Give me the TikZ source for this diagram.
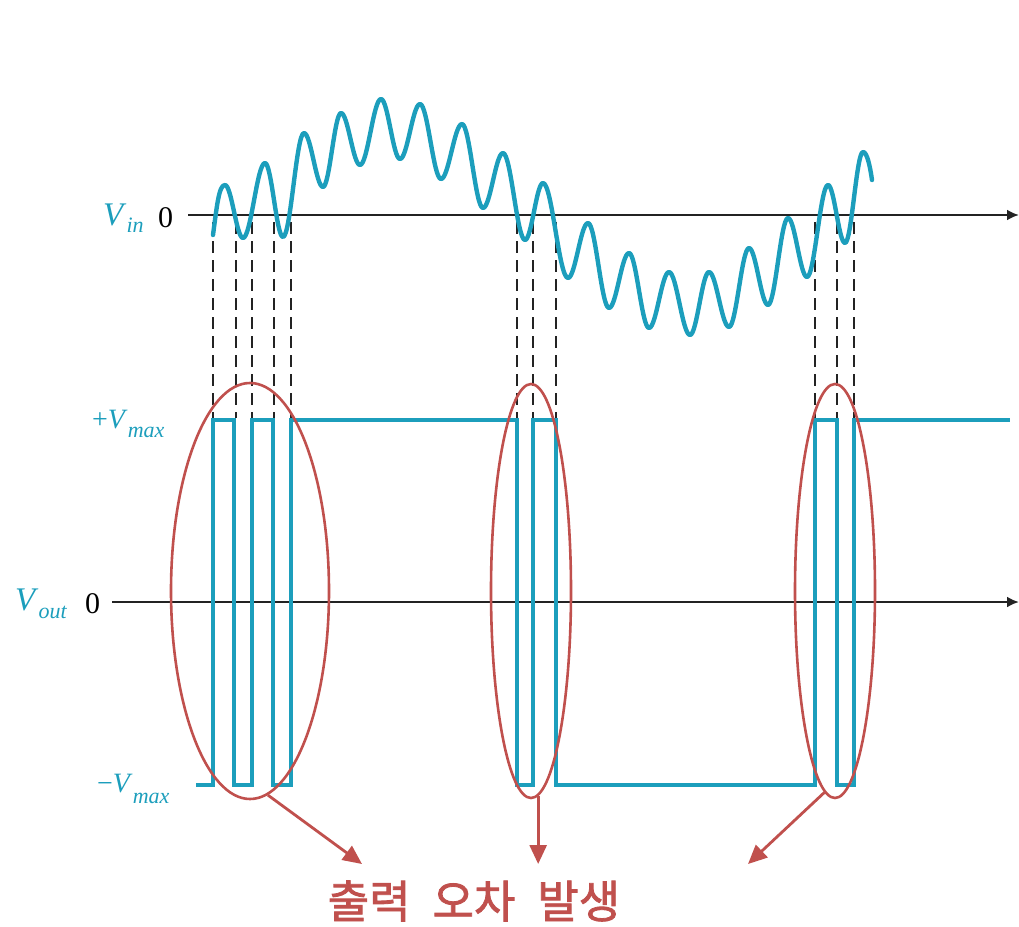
\documentclass[tikz,border=0pt]{standalone}
\usepackage{fontspec}
\setmainfont{Liberation Serif}
\newfontfamily\krfont[AutoFakeBold=1.8]{Noto Sans CJK KR}
\usetikzlibrary{arrows.meta,shapes.geometric}
\definecolor{wavec}{RGB}{28,158,188}
\definecolor{errred}{RGB}{192,80,77}
\definecolor{axisc}{RGB}{35,35,35}
\begin{document}
\begin{tikzpicture}[x=1pt,y=-1pt,
  wave/.style={draw=wavec, line width=4.4pt, line cap=round, line join=round},
  sq/.style={draw=wavec, line width=4.2pt, line join=miter},
  axisline/.style={draw=axisc, line width=2.6pt, -{Latex[length=12pt,width=11pt]}},
  guide/.style={draw=axisc, line width=2.8pt, dash pattern=on 12pt off 7pt},
  ring/.style={ellipse, draw=errred, line width=2.6pt, inner sep=0pt},
  callout/.style={draw=errred, line width=2.8pt, -{Triangle[length=19pt,width=17pt]}},
  lab/.style={inner sep=0pt, anchor=base west},
]
\useasboundingbox (0,0) rectangle (1019,926);

% dashed guides
\foreach \gx in {213,236,252,274,291,517,533,556,815,837,854}
  \draw[guide] (\gx,222) -- (\gx,418);

% axes
\coordinate (vinS) at (188,215);
\coordinate (vinE) at (1019,215);
\coordinate (voutS) at (112,602);
\coordinate (voutE) at (1019,602);
\draw[axisline] (vinS) -- (vinE);
\draw[axisline] (voutS) -- (voutE);

% input wave
\draw[wave] (213,235) .. controls (217,205) and (219,185) .. (225,185)
  \foreach \x/\y [remember=\x as \px (initially 225), remember=\y as \py (initially 185)] in
  {243/238,265/163,283/237,304/133,323/187,341/113,360/165,381/99,400/159,420/104,441/179,462/124,483/208,503/153,525/240,543/183,568/278,588/223,609/308,629/253,649/328,669/272,690/335,709/272,729/327,749/248,768/305,788/218,807/277,828/185,845/243,863/152}
  { .. controls ({\px+0.3634*(\x-\px)},\py) and ({\x-0.3634*(\x-\px)},\y) .. (\x,\y) }
  .. controls (867,152) and (870,166) .. (872,180);

% output square wave
\draw[sq] (196,785) -- (213,785) -- (213,420) -- (234,420) -- (234,785) -- (252,785)
  -- (252,420) -- (273,420) -- (273,785) -- (291,785) -- (291,420) -- (517,420)
  -- (517,785) -- (533,785) -- (533,420) -- (556,420) -- (556,785) -- (815,785)
  -- (815,420) -- (837,420) -- (837,785) -- (854,785) -- (854,420) -- (1010,420);

% labels
\node[lab, text=wavec] (vin) at (103,225)
  {\fontsize{33}{33}\selectfont\textit{V}\raisebox{-7pt}{\fontsize{22}{22}\selectfont\textit{in}}};
\node[lab] (vin0) at (158,227) {\fontsize{30}{30}\selectfont 0};
\node[lab, text=wavec] (vout) at (15,610)
  {\fontsize{33}{33}\selectfont\textit{V}\raisebox{-8pt}{\fontsize{22}{22}\selectfont\textit{out}}};
\node[lab] (vout0) at (85,613) {\fontsize{30}{30}\selectfont 0};
\node[lab, text=wavec] (vmaxp) at (92,428)
  {\fontsize{28}{28}\selectfont +\textit{V}\raisebox{-9pt}{\fontsize{22}{22}\selectfont\textit{max}}};
\node[lab, text=wavec] (vmaxn) at (97,792)
  {\fontsize{28}{28}\selectfont −\textit{V}\raisebox{-11pt}{\fontsize{22}{22}\selectfont\textit{max}}};

% error ellipses
\node[ring, minimum width=158pt, minimum height=416pt] (e1) at (250,591) {};
\node[ring, minimum width=80pt, minimum height=414pt] (e2) at (531,591) {};
\node[ring, minimum width=80pt, minimum height=414pt] (e3) at (835,591) {};

% message and callouts
\node[text=errred, inner sep=0pt] (msg) at (474,901)
  {\krfont\bfseries\fontsize{45}{45}\selectfont 출력\hspace{22pt}오차\hspace{22pt}발생};
\coordinate (t1) at (362,864);
\coordinate (t2) at (539,864);
\coordinate (t3) at (748,864);
\draw[callout] (e1.-85) -- (t1);
\draw[callout] (e2.-88) -- (e2.-88 |- t2);
\draw[callout] (e3.-93) -- (t3);
\end{tikzpicture}
\end{document}
